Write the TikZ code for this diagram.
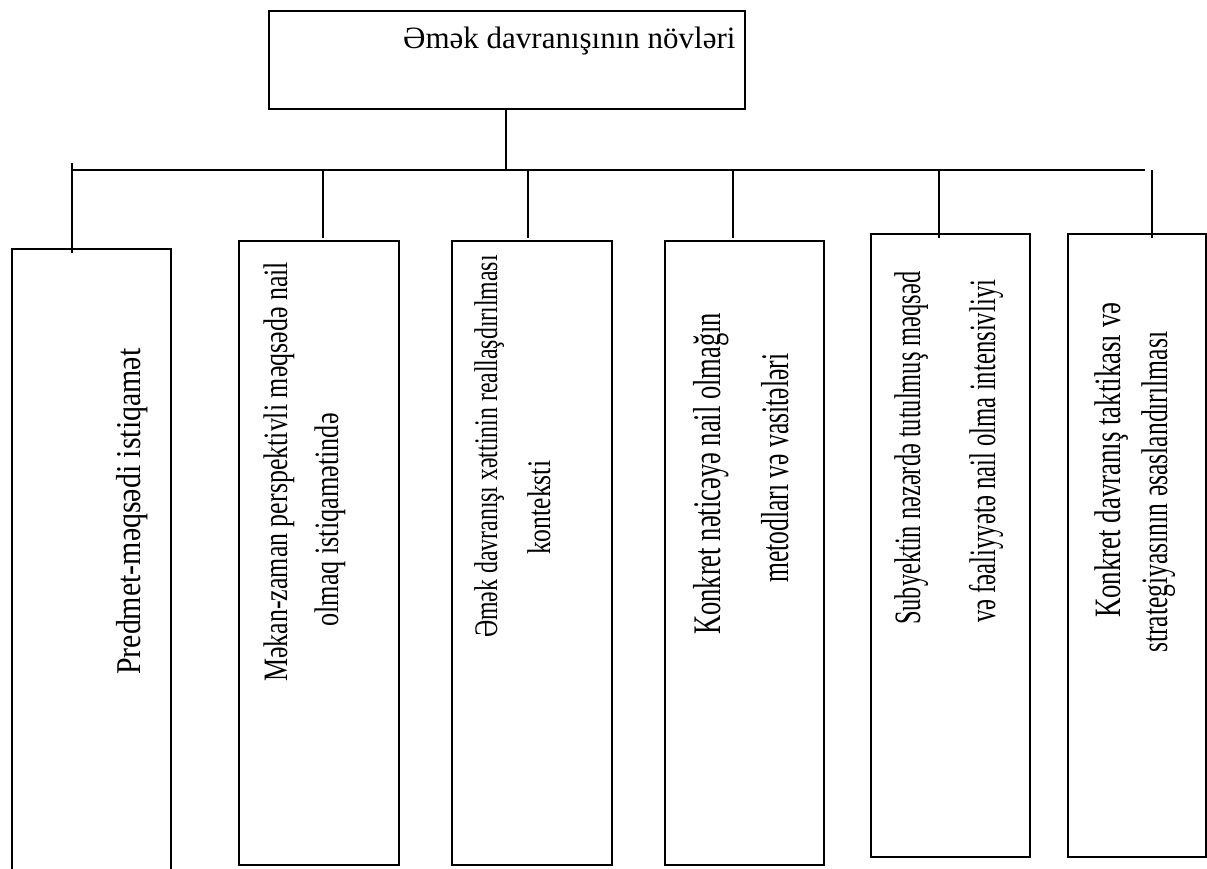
\documentclass[tikz,border=0pt]{standalone}
\usepackage{fontspec}
\usepackage{graphicx}
\setmainfont{Liberation Serif}
% label squeezed along its run (#1) and stretched across it (#2)
\newcommand\squeezed[3]{\scalebox{#1}[#2]{#3}}
\begin{document}
\begin{tikzpicture}[x=1pt,y=-1pt,
  box/.style={draw,line width=1.7pt,inner sep=0pt},
  wire/.style={line width=1.2pt},
  vtext/.style={inner sep=0pt,anchor=base west,rotate=90,font=\fontsize{30.5}{36}\selectfont},
  htext/.style={inner sep=0pt,anchor=base west,font=\fontsize{31}{36}\selectfont}]
\useasboundingbox (0,0) rectangle (1207,868);
\clip (0,0) rectangle (1207,868);

% heading box
\node[box,minimum width=476pt,minimum height=98pt] (top) at (507,60) {};
\node[htext] (toptext) at (403,48) {Əmək davranışının növləri};

% category boxes
\node[box,minimum width=159pt,minimum height=626pt] (b1) at (91.5,562) {};
\node[box,minimum width=160pt,minimum height=624pt] (b2) at (319,553) {};
\node[box,minimum width=160pt,minimum height=624pt] (b3) at (532,553) {};
\node[box,minimum width=159pt,minimum height=624pt] (b4) at (744.5,553) {};
\node[box,minimum width=159pt,minimum height=623pt] (b5) at (950.5,545.5) {};
\node[box,minimum width=138pt,minimum height=623pt] (b6) at (1137,545.5) {};

% rotated labels
\node[vtext] (t1) at (140,675) {\squeezed{0.98}{1.14}{Predmet-məqsədi istiqamət}};
\node[vtext] (t2a) at (287,682) {\squeezed{0.85}{1.12}{Məkan-zaman perspektivli məqsədə nail}};
\node[vtext] (t2b) at (338,627) {\squeezed{0.86}{1.12}{olmaq istiqamətində}};
\node[vtext] (t3a) at (497,638) {\squeezed{0.78}{1.08}{Əmək davranışı xəttinin reallaşdırılması}};
\node[vtext] (t3b) at (550,555) {\squeezed{0.84}{1.08}{konteksti}};
\node[vtext] (t4a) at (720,635) {\squeezed{0.87}{1.28}{Konkret nəticəyə nail olmağın}};
\node[vtext] (t4b) at (788,583) {\squeezed{0.84}{1.28}{metodları və vasitələri}};
\node[vtext] (t5a) at (920,625) {\squeezed{0.80}{1.22}{Subyektin nəzərdə tutulmuş məqsəd}};
\node[vtext] (t5b) at (995,623) {\squeezed{0.81}{1.22}{və fəaliyyətə nail olma intensivliyi}};
\node[vtext] (t6a) at (1120,618) {\squeezed{0.88}{1.22}{Konkret davranış taktikası və}};
\node[vtext] (t6b) at (1167,653) {\squeezed{0.84}{1.22}{strategiyasının əsaslandırılması}};

% connector points
\coordinate (trunk) at (506,170);
\coordinate (busL) at (72,170);
\coordinate (busR) at (1145,170);
\coordinate (d1) at (72,163);
\coordinate (d2) at (323,170);
\coordinate (d3) at (528,170);
\coordinate (d4) at (733,170);
\coordinate (d5) at (939,170);
\coordinate (d6) at (1152,170);

% connectors
\draw[wire] (top.south -| trunk) -- (trunk);
\draw[wire] (busL) -- (busR);
\draw[wire] (d1) -- ([yshift=-5pt]d1 |- b1.north);
\draw[wire] (d2) -- ([yshift=2pt]d2 |- b2.north);
\draw[wire] (d3) -- ([yshift=2pt]d3 |- b3.north);
\draw[wire] (d4) -- ([yshift=2pt]d4 |- b4.north);
\draw[wire] (d5) -- ([yshift=-5pt]d5 |- b5.north);
\draw[wire] (d6) -- ([yshift=-5pt]d6 |- b6.north);
\end{tikzpicture}
\end{document}
